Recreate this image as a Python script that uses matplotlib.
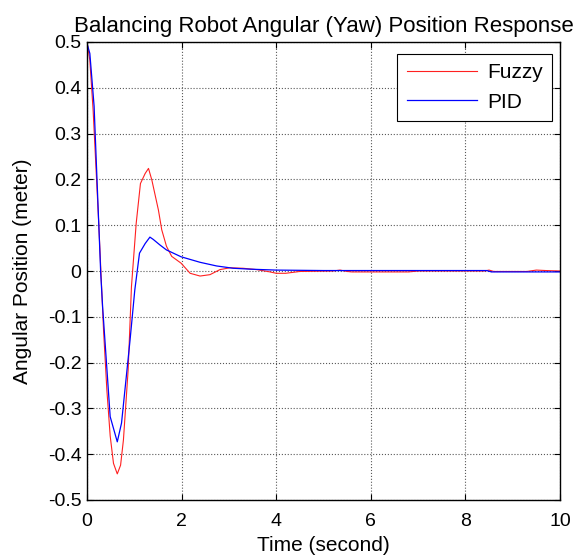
import matplotlib
matplotlib.use("Agg")
import matplotlib.pyplot as plt

plt.rcParams['font.family'] = ['Liberation Sans', 'DejaVu Sans']

t_pid = [0, 0.06, 0.15, 0.29, 0.33, 0.49, 0.64, 0.73, 0.91, 1.01, 1.11, 1.23, 1.33, 1.40,
         1.54, 1.68, 1.99, 2.39, 2.74, 3.09, 3.45, 4.0, 5.0, 6.0, 7.0, 8.0, 8.45, 8.55, 9.0, 10.0]
y_pid = [0.497, 0.475, 0.36, -0.005, -0.078, -0.318, -0.373, -0.332, -0.151, -0.042, 0.039,
         0.06, 0.074, 0.069, 0.057, 0.046, 0.031, 0.019, 0.011, 0.006, 0.004, 0.002, 0.001,
         0.001, 0.001, 0.001, 0.001, -0.002, -0.002, -0.002]

t_fuzzy = [0, 0.06, 0.13, 0.25, 0.35, 0.42, 0.49, 0.56, 0.64, 0.71, 0.77, 0.87, 0.94, 1.04,
           1.13, 1.23, 1.30, 1.37, 1.51, 1.58, 1.68, 1.79, 1.99, 2.18, 2.39, 2.60, 2.81, 3.02,
           3.30, 3.59, 3.87, 4.0, 4.2, 4.5, 5.2, 5.35, 5.5, 5.6, 6.8, 7.0, 8.4, 8.5, 8.6, 9.3,
           9.5, 9.7, 10]
y_fuzzy = [0.5, 0.46, 0.35, 0.10, -0.13, -0.26, -0.36, -0.42, -0.443, -0.424, -0.369, -0.216,
           -0.034, 0.104, 0.191, 0.213, 0.224, 0.199, 0.133, 0.09, 0.054, 0.032, 0.017, -0.005,
           -0.011, -0.008, 0.003, 0.007, 0.006, 0.003, -0.002, -0.005, -0.005, -0.001, 0.0,
           0.002, -0.001, -0.002, -0.002, 0.0, 0.0, 0.002, -0.001, -0.001, 0.002, 0.001, 0.0]

xticks = [0, 2, 4, 6, 8, 10]
yticks = [-0.5, -0.4, -0.3, -0.2, -0.1, 0, 0.1, 0.2, 0.3, 0.4, 0.5]
ytick_labels = ['-0.5', '-0.4', '-0.3', '-0.2', '-0.1', '0', '0.1', '0.2', '0.3', '0.4', '0.5']

fig = plt.figure(figsize=(5.73, 5.58), dpi=100)
ax = fig.add_axes([87/573, 58/558, 473/573, 458/558])

ax.plot(t_fuzzy, y_fuzzy, color='#ff2020', lw=0.8, label='Fuzzy')
ax.plot(t_pid, y_pid, color='#0000ff', lw=0.9, label='PID')

ax.set_xlim(0, 10)
ax.set_ylim(-0.5, 0.5)
ax.set_xticks(xticks)
ax.set_xticklabels([str(v) for v in xticks])
ax.set_yticks(yticks)
ax.set_yticklabels(ytick_labels)
ax.tick_params(direction='in', top=True, right=True, labelsize=14, length=4, width=0.8)
ax.tick_params(axis='x', pad=9)
ax.tick_params(axis='y', pad=4)
ax.grid(True, linestyle=':', color='0.35', linewidth=0.8)
for s in ax.spines.values():
    s.set_linewidth(1.0)

ax.set_title('Balancing Robot Angular (Yaw) Position Response', fontsize=16, pad=7)
ax.set_xlabel('Time (second)', fontsize=15, labelpad=5)
ax.set_ylabel('Angular Position (meter)', fontsize=15, labelpad=11)

leg = ax.legend(loc='upper right', bbox_to_anchor=(0.983, 0.974), fontsize=15, frameon=True,
                fancybox=False, edgecolor='k', framealpha=1, handlelength=3.4,
                handletextpad=0.45, labelspacing=0.5, borderpad=0.45, borderaxespad=0)
leg.get_frame().set_linewidth(0.8)

fig.savefig('out.png', dpi=100)
